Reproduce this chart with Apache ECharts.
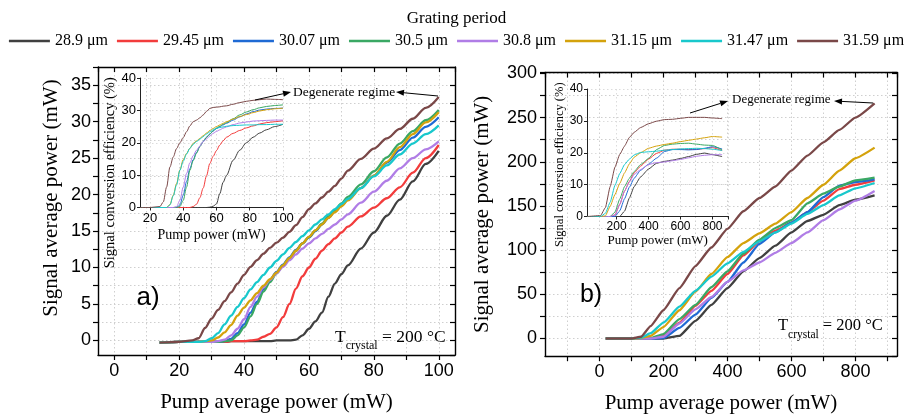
<!DOCTYPE html>
<html><head><meta charset="utf-8">
<script src="https://cdn.jsdelivr.net/npm/echarts@6/dist/echarts.min.js"></script>
<style>html,body{margin:0;padding:0;background:#fff}#c{width:913px;height:415px}</style>
</head><body><div id="c"></div>
<script>
// ---------- legend / series ----------
const seriesNames = ['28.9 μm','29.45 μm','30.07 μm','30.5 μm','30.8 μm','31.15 μm','31.47 μm','31.59 μm'];
const seriesColors = ['#404040','#f23c3c','#1f6ad4','#3aa864','#b07de6','#d4a20c','#18c8cc','#7a4848'];

// ---------- panel a) main: signal average power (mW) vs pump power (mW) ----------
const aPump = [14,20,24,26,28,30,32,34,36,38,40,42,44,46,48,50,52,54,56,58,60,62,64,66,68,70,72,76,80,84,88,92,96,100];
const a_289  = [-0.3,-0.2,-0.2,-0.2,-0.2,-0.2,-0.2,-0.2,-0.1,-0.1,-0.1,-0.1,-0.1,-0.1,-0.1,0,0,0,0.1,0.7,1.6,2.6,3.8,6.0,7.8,9.1,10.3,12.6,14.8,17.1,19.3,21.8,24.2,26.0];
const a_2945 = [-0.3,-0.2,-0.2,-0.2,-0.2,-0.2,-0.2,-0.2,-0.1,-0.1,-0.1,0,0.1,0.5,0.9,1.8,3.2,5.0,7.1,8.8,10.0,11.2,12.3,13.2,14.0,14.8,15.6,17.0,18.2,19.5,21.0,23.0,25.0,26.8];
const a_3007 = [-0.3,-0.2,-0.2,-0.2,-0.2,-0.2,-0.2,-0.1,0.2,1.0,2.2,3.8,5.3,7.0,8.3,9.4,10.4,11.4,12.4,13.3,14.1,15.0,15.9,16.8,17.7,18.5,19.3,20.9,22.6,24.4,26.1,27.8,29.3,30.6];
const a_305  = [-0.3,-0.2,-0.2,-0.2,-0.2,-0.2,-0.2,-0.1,0,0.7,1.8,3.3,5.0,6.7,8.0,9.2,10.3,11.3,12.3,13.3,14.2,15.1,16.0,17.0,17.9,18.8,19.7,21.4,23.2,25.1,27.0,28.7,30.2,31.6];
const a_308  = [-0.3,-0.2,-0.2,-0.2,-0.2,-0.2,-0.1,0.1,0.7,1.6,2.9,4.6,6.0,7.3,8.3,9.2,10.1,11.0,11.8,12.6,13.3,14.0,14.6,15.3,15.9,16.6,17.3,18.9,20.4,21.9,23.6,25.0,26.2,27.3];
const a_3115 = [-0.3,-0.2,-0.2,-0.2,-0.1,0,0.4,1.1,2.1,3.4,4.5,5.5,6.5,7.5,8.4,9.3,10.3,11.3,12.3,13.3,14.2,15.1,15.9,16.8,17.6,18.4,19.2,20.9,22.6,24.5,26.5,28.3,29.9,31.3];
const a_3147 = [-0.3,-0.2,-0.2,-0.2,-0.1,0.3,1.0,2.2,3.4,4.6,5.8,7.0,8.0,9.0,10.0,10.9,11.8,12.7,13.5,14.3,15.1,15.9,16.6,17.3,18.0,18.7,19.4,20.9,22.5,24.0,25.5,27.0,28.3,29.5];
const a_3159 = [-0.3,-0.2,0,0.3,1.7,3.0,4.2,5.4,6.6,7.8,9.0,10.1,11.0,11.9,12.7,13.4,14.1,14.9,15.8,16.9,18.0,18.8,19.6,20.4,21.2,22.2,23.3,24.9,26.3,27.7,29.0,30.4,31.9,33.4];

// ---------- panel a) inset: signal conversion efficiency (%) ----------
const iaPump = [14,20,26,28,30,32,34,36,38,40,42,44,46,48,50,52,54,56,58,60,62,64,66,70,74,78,82,86,90,95,100];
const ia_289  = [0,0,0,0,0,0,0,0,0,0,0,0,0,0,0,0,0,0.1,0.4,1.1,4.3,7.8,9.9,14.6,17.7,20.0,21.7,23.0,24.0,25.0,25.7];
const ia_2945 = [0,0,0,0,0,0,0,0,0,0,0,0,0.3,1.0,3.0,6.0,9.8,13.6,15.8,17.6,19.3,20.6,21.7,22.9,23.8,24.6,25.2,25.8,26.2,26.5,26.8];
const ia_3007 = [0,0,0,0,0,0,0,0,0.8,3.8,8.0,12.0,14.8,17.0,18.9,20.4,21.7,22.7,23.6,24.4,25.0,25.5,26.0,27.0,28.0,28.9,29.6,30.1,30.4,30.6,30.7];
const ia_305  = [0,0,0,0,0,0,0,0,0.3,2.2,6.3,11.5,14.5,16.8,18.8,20.3,21.7,22.7,23.7,24.5,25.1,25.7,26.2,27.4,28.6,29.5,30.2,30.8,31.2,31.5,31.7];
const ia_308  = [0,0,0,0,0,0,0,0.3,2.2,6.3,10.5,13.8,16.0,17.7,19.0,20.3,21.2,22.1,22.9,23.5,24.0,24.5,24.9,25.6,26.1,26.4,26.7,26.8,26.9,27.0,27.0];
const ia_3115 = [0,0,0,0,0,0.9,3.8,7.4,11.6,14.8,16.7,18.3,19.8,20.6,21.3,22.2,23.0,23.8,24.4,25.0,25.5,26.0,26.5,27.3,28.1,28.7,29.3,29.8,30.2,30.5,30.7];
const ia_3147 = [0,0,0,0,0,0.8,3.6,7.0,11.5,14.3,16.5,18.3,19.5,20.4,21.1,21.9,22.7,23.4,24.0,24.5,24.7,24.9,25.1,25.3,25.4,25.5,25.5,25.6,25.6,25.7,25.7];
const ia_3159 = [0,0,0.3,1.7,6.3,12.5,15.6,18.2,20.0,21.6,23.4,25.2,26.5,27.0,27.7,28.6,29.7,30.6,30.9,31.0,31.1,31.3,31.4,31.9,32.4,32.8,33.1,33.3,33.5,33.4,33.3];

// ---------- panel b) main ----------
const bPump = [20,100,130,160,200,250,300,350,400,450,500,550,600,650,700,750,800,860];
const b_289  = [0,0,0,0,0,3,20,38,57,76,91,105,120,133,140,151,157,162];
const b_2945 = [0,0,0,0,3,18,37,54,73,94,110,122,131,143,156,169,174,179];
const b_3007 = [0,0,0,0,0.5,12,27,46,64,86,107,120,131,143,160,173,177,180];
const b_305  = [0,0,0,0.5,5,22,38,58,76,96,112,125,134,153,164,172,179,182];
const b_308  = [0,0,0,0,2,17,33,47,64,77,86,97,108,120,134,146,156,167];
const b_3115 = [0,0,0.5,3,13,32,53,73,92,108,119,130,143,159,174,190,204,216];
const b_3147 = [0,0,1,6,18,36,54,70,85,98,110,120,130,141,151,162,170,176];
const b_3159 = [0,0,2,14,32,57,82,103,124,144,159,172,190,207,222,236,250,266];

// ---------- panel b) inset ----------
const ibPump = [20,100,130,160,190,220,250,280,310,350,400,450,500,550,600,650,700,750,800,860];
const ib_289  = [0,0,0,0,0,0,1.7,5.8,9.4,12.4,14.9,16.7,17.3,17.7,18.2,18.8,19.5,19.9,19.4,18.8];
const ib_2945 = [0,0,0,0,0.5,3.8,8.0,11.0,13.7,15.8,18.0,19.8,20.8,21.1,21.1,21.0,21.1,21.3,21.6,20.7];
const ib_3007 = [0,0,0,0,0,1.8,5.6,9.2,12.0,14.5,16.4,18.3,20.4,21.0,21.0,20.9,21.0,21.4,21.9,21.2];
const ib_305  = [0,0,0,0,1.4,5.5,9.4,12.0,14.1,16.3,18.2,21.0,22.3,22.7,22.9,23.0,22.7,22.4,22.3,20.9];
const ib_308  = [0,0,0,0,0.5,3.8,8.0,10.8,13.2,14.7,16.3,16.9,17.1,17.5,17.9,18.4,18.9,19.2,19.4,19.4];
const ib_3115 = [0,0,0.2,3.2,6.9,10.4,13.7,16.5,18.6,20.0,21.4,22.1,22.6,23.0,23.5,23.9,24.3,24.7,25.1,24.9];
const ib_3147 = [0,0,1.0,4.5,9.8,13.5,16.3,18.0,19.3,20.1,20.3,20.5,20.8,21.0,21.2,21.3,21.4,21.3,21.1,20.7];
const ib_3159 = [0,0.3,2.8,9.4,15.5,19.5,22.1,24.8,26.4,27.9,29.1,29.9,30.4,30.5,30.8,31.1,31.1,31.1,30.9,30.7];

// ---------- build ----------
const aMain = [a_289,a_2945,a_3007,a_305,a_308,a_3115,a_3147,a_3159];
const aIns  = [ia_289,ia_2945,ia_3007,ia_305,ia_308,ia_3115,ia_3147,ia_3159];
const bMain = [b_289,b_2945,b_3007,b_305,b_308,b_3115,b_3147,b_3159];
const bIns  = [ib_289,ib_2945,ib_3007,ib_305,ib_308,ib_3115,ib_3147,ib_3159];
const zip = (xs, ys) => xs.map((x, i) => [x, ys[i]]);

const SANS = 'Liberation Sans', SERIF = 'Liberation Serif';
const near = (v, m) => Math.abs(v / m - Math.round(v / m)) < 1e-6;
const dotted = {show: true, lineStyle: {color: '#cfcfcf', type: [1.5, 2.5], width: 1}};
const blackLine = {show: true, onZero: false, lineStyle: {color: '#000', width: 1.4}};
const insLine = {show: true, onZero: false, lineStyle: {color: '#222', width: 1}};

function mainX(grid, min, max, step, labStep, labMax, nameGap) {
  return [{
    type: 'value', gridIndex: grid, position: 'bottom', min, max, minInterval: step, maxInterval: step,
    axisLine: blackLine, axisTick: {show: true, length: 5, lineStyle: {color: '#000', width: 1.2}},
    axisLabel: {fontFamily: SANS, fontSize: 18, color: '#000', margin: 7, showMinLabel: false, showMaxLabel: false,
      formatter: v => (v >= 0 && v <= labMax && near(v, labStep)) ? String(v) : ''},
    splitLine: dotted,
    name: 'Pump average power (mW)', nameLocation: 'middle', nameGap,
    nameTextStyle: {fontFamily: SERIF, fontSize: 21, color: '#000'}
  }, {
    type: 'value', gridIndex: grid, position: 'top', min, max, minInterval: step, maxInterval: step,
    axisLine: blackLine, axisTick: {show: true, inside: true, length: 5, lineStyle: {color: '#000', width: 1.2}},
    axisLabel: {show: false}, splitLine: {show: false}
  }];
}
function mainY(grid, min, max, step, labStep, labMax, nameGap, margin, pad) {
  return [{
    type: 'value', gridIndex: grid, position: 'left', min, max, minInterval: step, maxInterval: step,
    axisLine: blackLine, axisTick: {show: true, length: 5, lineStyle: {color: '#000', width: 1.2}},
    axisLabel: {fontFamily: SANS, fontSize: 18, color: '#000', margin, showMinLabel: false,
      formatter: v => (v >= 0 && v <= labMax && near(v, labStep)) ? String(v) : ''},
    splitLine: dotted,
    name: 'Signal average power (mW)', nameLocation: 'middle', nameGap,
    nameTextStyle: {fontFamily: SERIF, fontSize: 21, color: '#000', padding: pad}
  }, {
    type: 'value', gridIndex: grid, position: 'right', min, max, minInterval: step, maxInterval: step,
    axisLine: blackLine, axisTick: {show: true, inside: true, length: 5, lineStyle: {color: '#000', width: 1.2}},
    axisLabel: {show: false}, splitLine: {show: false}
  }];
}
function insX(grid, min, max, step, fs, nameFs, nameGap) {
  return {
    type: 'value', gridIndex: grid, position: 'bottom', min, max, minInterval: step, maxInterval: step,
    axisLine: insLine, axisTick: {show: true, length: 3, lineStyle: {color: '#222'}},
    axisLabel: {fontFamily: SANS, fontSize: fs, color: '#000', margin: 4, showMinLabel: false,
      formatter: v => near(v, step) ? String(v) : ''},
    splitLine: {show: true, lineStyle: {color: '#dcdcdc', type: [1.5, 2.5]}},
    name: 'Pump power (mW)', nameLocation: 'middle', nameGap,
    nameTextStyle: {fontFamily: SERIF, fontSize: nameFs, color: '#000'}
  };
}
function insY(grid, fs, nameFs, nameGap, pad) {
  return {
    type: 'value', gridIndex: grid, position: 'left', min: 0, max: 40, interval: 10,
    axisLine: insLine, axisTick: {show: true, length: 3, lineStyle: {color: '#222'}},
    axisLabel: {fontFamily: SANS, fontSize: fs, color: '#000', margin: 4},
    splitLine: {show: true, lineStyle: {color: '#dcdcdc', type: [1.5, 2.5]}},
    name: 'Signal conversion efficiency (%)', nameLocation: 'middle', nameGap,
    nameTextStyle: {fontFamily: SERIF, fontSize: nameFs, color: '#000', padding: pad}
  };
}

const xAxis = [
  ...mainX(0, -5, 105, 10, 20, 100, 37),
  insX(1, 14, 100, 20, 13, 14, 21),
  ...mainX(2, -170, 930, 100, 200, 800, 37),
  insX(3, 15, 900, 200, 12, 13, 18)
];
const yAxis = [
  ...mainY(0, -2, 37.5, 2.5, 5, 35, 36, 7, [0, 0, 0, 26]),
  insY(1, 13, 14.5, 12, [0, 60, 0, 0]),
  ...mainY(2, -20, 301, 25, 50, 300, 52, 8, [0, 0, 0, 0]),
  insY(3, 12, 12.5, 17, [0, 24, 0, 0])
];

const series = [];
function addSet(sets, xs, xi, yi, width, z, smooth) {
  sets.forEach((ys, k) => series.push({
    type: 'line', name: seriesNames[k], xAxisIndex: xi, yAxisIndex: yi,
    data: zip(xs, ys), showSymbol: false, symbol: 'none', smooth, smoothMonotone: 'x',
    lineStyle: {color: seriesColors[k], width}, itemStyle: {color: seriesColors[k]}, z
  }));
}
addSet(aMain, aPump, 0, 0, 2.3, 3, 0.3);
addSet(aIns, iaPump, 2, 2, 1, 5, 0.3);
addSet(bMain, bPump, 3, 3, 2.3, 3, 0.15);
addSet(bIns, ibPump, 5, 5, 1, 5, 0.15);

function arrow(x1, y1, x2, y2) {
  const ang = Math.atan2(y2 - y1, x2 - x1), L = 8, W = 3;
  const bx = x2 - L * Math.cos(ang), by = y2 - L * Math.sin(ang);
  const px = -Math.sin(ang) * W, py = Math.cos(ang) * W;
  return [
    {type: 'line', shape: {x1, y1, x2: bx, y2: by}, style: {stroke: '#000', lineWidth: 1}, z: 10},
    {type: 'polygon', shape: {points: [[x2, y2], [bx + px, by + py], [bx - px, by - py]]}, style: {fill: '#000'}, z: 10}
  ];
}
function label(x, y, text, font, align) {
  return {type: 'text', x, y, z: 10, style: {text, font, fill: '#000', textAlign: align || 'left', align: align || 'left', textVerticalAlign: 'middle', verticalAlign: 'middle'}};
}
function tcrystal(x, y, big, small) {
  return {type: 'text', x, y, z: 10, style: {
    text: '{a|T}{b|crystal}{a| = 200 °C}', fill: '#000', textVerticalAlign: 'middle', verticalAlign: 'middle',
    rich: {a: {fontFamily: SERIF, fontSize: big, lineHeight: 30, verticalAlign: 'middle', fill: '#000'},
           b: {fontFamily: SERIF, fontSize: small, verticalAlign: 'bottom', fill: '#000'}}
  }};
}

const graphic = [
  label(148, 298, 'a)', '26px ' + SANS, 'center'),
  label(591, 295, 'b)', '25px ' + SANS, 'center'),
  tcrystal(335, 337, 17.5, 12),
  tcrystal(778, 326, 16.5, 11.5),
  label(293, 92, 'Degenerate regime', '13.5px ' + SERIF),
  label(732, 100, 'Degenerate regime', '13px ' + SERIF),
  ...arrow(255, 100, 291, 92),
  ...arrow(438, 96, 396, 92),
  ...arrow(690, 113, 728, 101),
  ...arrow(873, 103, 834, 101)
];

const chart = echarts.init(document.getElementById('c'), null, {renderer: 'canvas'});
chart.setOption({
  animation: false,
  backgroundColor: '#fff',
  title: {text: 'Grating period', left: 'center', top: 5,
    textStyle: {fontFamily: SERIF, fontSize: 17, fontWeight: 'normal', color: '#000'}},
  legend: {data: seriesNames, top: 33, left: 'center', padding: 0, icon: 'rect', itemWidth: 41, itemHeight: 2.5, itemGap: 9,
    textStyle: {fontFamily: SERIF, fontSize: 16, color: '#000'}},
  grid: [
    {left: 98, top: 67, width: 357, height: 288, containLabel: false, outerBoundsMode: 'none'},
    {left: 140, top: 78, width: 143, height: 129.5, containLabel: false, outerBoundsMode: 'none'},
    {left: 545, top: 72.5, width: 352, height: 283.7, containLabel: false, outerBoundsMode: 'none'},
    {left: 587, top: 89, width: 141.5, height: 127.5, containLabel: false, outerBoundsMode: 'none'}
  ],
  xAxis, yAxis, series, graphic
});
</script></body></html>
